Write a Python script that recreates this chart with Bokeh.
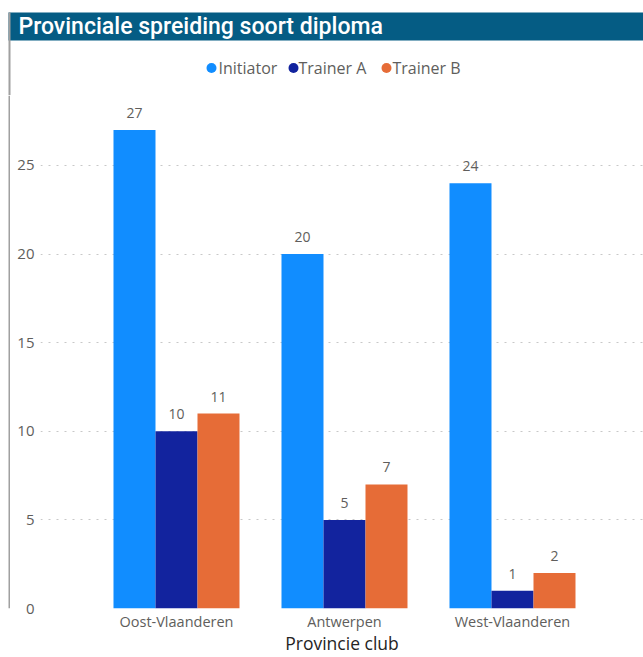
from bokeh.plotting import figure
from bokeh.layouts import column, row
from bokeh.models import (Range1d, FixedTicker, ColumnDataSource, LabelSet)
from bokeh.core.properties import value
from bokeh.transform import dodge
from bokeh.embed import file_html
from bokeh.resources import INLINE

# ---- data ----
provinces = ["Oost-Vlaanderen", "Antwerpen", "West-Vlaanderen"]
initiator = [27, 20, 24]
trainer_a = [10, 5, 1]
trainer_b = [11, 7, 2]
series_names = ["Initiator", "Trainer A", "Trainer B"]
colors = ["#118DFF", "#12239E", "#E66C37"]
y_ticks = [0, 5, 10, 15, 20, 25]
title_text = "Provinciale spreiding soort diploma"
x_title = "Provincie club"

FONT = "Open Sans"
TITLE_BG = "#055C84"
BORDER = "#A0A0A0"


def bare(fig):
    fig.outline_line_color = None
    fig.grid.grid_line_color = None
    fig.background_fill_color = "white"
    fig.border_fill_color = "white"
    return fig


# ---- header (title bar + legend), pixel coordinates ----
HW, HH = 643, 95
head = bare(figure(width=HW, height=HH, output_backend="svg", toolbar_location=None,
                   x_range=Range1d(0, HW), y_range=Range1d(HH, 0), min_border=0,
                   x_axis_location=None, y_axis_location=None))
head.quad(left=[8], right=[HW], top=[12], bottom=[40], fill_color=TITLE_BG, line_color=None)
head.quad(left=[8], right=[10], top=[12], bottom=[HH], fill_color=BORDER, line_color=None)
head.text(x=[18], y=[26], text=[title_text], text_color="white",
          text_font=value("'Roboto Medium', Roboto"),
          text_font_size="23px", text_font_style="normal", text_baseline="middle")

# legend (circle swatch + label per series)
legend_marker_x = [211, 293, 386]
legend_text_x = [218, 298, 392]
legend_src = ColumnDataSource(dict(mx=legend_marker_x, tx=legend_text_x,
                                   y=[67.5] * len(series_names),
                                   name=series_names, color=colors))
head.scatter(x="mx", y="y", source=legend_src, marker="circle", size=10,
             fill_color="color", line_color=None)
head.text(x="tx", y="y", text="name", source=legend_src, text_color="#605E5C",
          text_font=value(FONT), text_font_size="16px", text_baseline="middle")

# ---- left border strip ----
SW, BH = 10, 657 - HH
strip = bare(figure(width=SW, height=BH, output_backend="svg", toolbar_location=None,
                    x_range=Range1d(0, SW), y_range=Range1d(BH, 0), min_border=0,
                    x_axis_location=None, y_axis_location=None))
strip.quad(left=[8], right=[10], top=[0], bottom=[BH], fill_color=BORDER, line_color=None)

# ---- chart ----
CW = 633
src = ColumnDataSource(dict(
    x=list(range(len(provinces))),
    s0=initiator, s1=trainer_a, s2=trainer_b,
    l0=[str(v) for v in initiator], l1=[str(v) for v in trainer_a], l2=[str(v) for v in trainer_b],
))

p = figure(width=CW, height=BH, output_backend="svg", toolbar_location=None,
           x_range=Range1d(-0.8095, 2.7798), y_range=Range1d(0, 28.95),
           min_border_left=30, min_border_right=0, min_border_top=0, min_border_bottom=49)
p.outline_line_color = None
p.background_fill_color = "white"
p.border_fill_color = "white"

offsets = [-0.25, 0.0, 0.25]
for i, (name, col) in enumerate(zip(series_names, colors)):
    xs = dodge("x", offsets[i], range=p.x_range)
    p.vbar(x=xs, top="s%d" % i, width=0.25, source=src, fill_color=col, line_color=None)
    lbl = LabelSet(x=xs, y="s%d" % i, text="l%d" % i, source=src,
                   text_align="center", text_baseline="alphabetic", y_offset=12,
                   text_font=value(FONT), text_font_size="14px", text_color="#605E5C")
    p.add_layout(lbl)

p.xaxis.ticker = FixedTicker(ticks=list(range(len(provinces))))
p.xaxis.major_label_overrides = {i: n for i, n in enumerate(provinces)}
p.yaxis.ticker = FixedTicker(ticks=y_ticks)
for ax in (p.xaxis, p.yaxis):
    ax.axis_line_color = None
    ax.major_tick_line_color = None
    ax.minor_tick_line_color = None
    ax.major_tick_out = 0
    ax.major_tick_in = 0
    ax.minor_tick_out = 0
    ax.minor_tick_in = 0
    ax.major_label_text_font = FONT
    ax.major_label_text_color = "#605E5C"
p.yaxis.major_label_text_font_size = "15px"
p.xaxis.major_label_text_font_size = "14.5px"
p.yaxis.major_label_standoff = 6
p.xaxis.major_label_standoff = 3
p.xaxis.axis_label = x_title
p.xaxis.axis_label_text_font = FONT
p.xaxis.axis_label_text_font_size = "17.5px"
p.xaxis.axis_label_text_font_style = "normal"
p.xaxis.axis_label_text_color = "#252423"
p.xaxis.axis_label_standoff = -3

p.xgrid.grid_line_color = None
p.ygrid.grid_line_color = "#C8C8C8"
p.ygrid.grid_line_dash = "2 6"
p.ygrid.grid_line_width = 1

layout = column(head, row(strip, p, spacing=0), spacing=0)
open("out.html", "w").write(file_html(layout, INLINE))
